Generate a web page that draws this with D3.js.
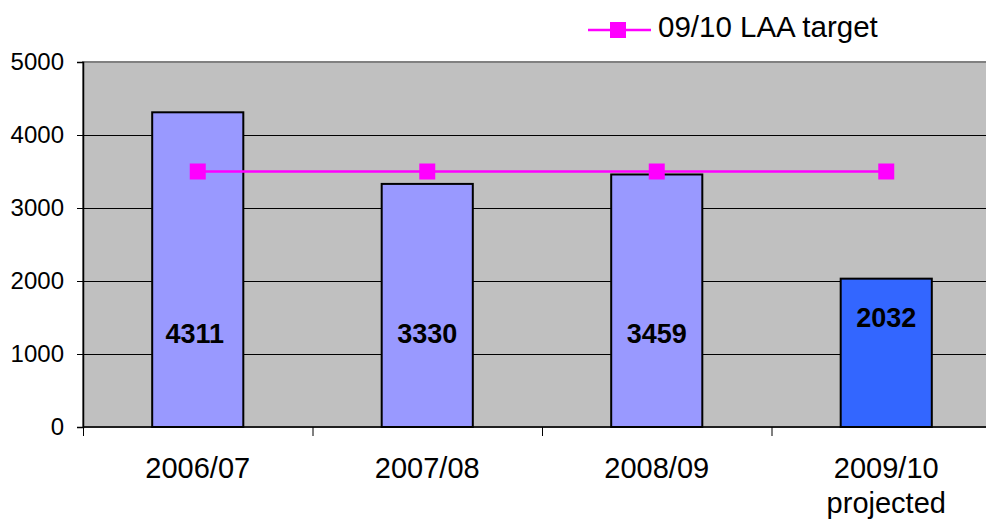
<!DOCTYPE html>
<html>
<head>
<meta charset="utf-8">
<script src="https://cdn.jsdelivr.net/npm/d3@7"></script>
<style>
    body { margin: 0; background: #fff; }
    svg { display: block; font-family: Arial, "Liberation Sans", sans-serif; }
</style>
</head>
<body>
<div id="grafica"></div>
<script>
"use strict";

// datos
const categorias = ["2006/07", "2007/08", "2008/09", "2009/10\nprojected"];
const valores = [4311, 3330, 3459, 2032];
const objetivo = [3500, 3500, 3500, 3500];
const ticksY = [0, 1000, 2000, 3000, 4000, 5000];
const leyendaTexto = "09/10 LAA target";

const width = 986, height = 522;
const margin = { top: 62, left: 83, bottom: 95 };
const pasoCat = 229.5;

const svg = d3.select("#grafica").append("svg")
    .attr("width", width)
    .attr("height", height);

const x = d3.scaleBand()
    .domain(categorias)
    .range([margin.left, margin.left + pasoCat * categorias.length])
    .padding(0);

const y = d3.scaleLinear()
    .domain([0, 5000])
    .range([height - margin.bottom, margin.top]);

const x0 = margin.left, x1 = margin.left + pasoCat * categorias.length;

// fondo del area
svg.append("rect")
    .attr("x", x0).attr("y", y(5000))
    .attr("width", x1 - x0).attr("height", y(0) - y(5000))
    .attr("fill", "#c0c0c0")
    .attr("stroke", "#808080")
    .attr("stroke-width", 2);

// lineas de grilla
svg.append("g").selectAll("line")
    .data(ticksY.filter(d => d > 0 && d < 5000))
    .enter().append("line")
    .attr("x1", x0).attr("x2", x1)
    .attr("y1", d => Math.round(y(d)) + 0.5).attr("y2", d => Math.round(y(d)) + 0.5)
    .attr("stroke", "#000").attr("stroke-width", 1);

// barras
const anchoBarra = x.bandwidth() * 0.397;
const ultimo = valores.length - 1;
svg.append("g").selectAll("rect")
    .data(valores)
    .enter().append("rect")
    .attr("x", (d, i) => x(categorias[i]) + (x.bandwidth() - anchoBarra) / 2)
    .attr("y", d => y(d))
    .attr("width", anchoBarra)
    .attr("height", d => y(0) - y(d))
    .attr("fill", (d, i) => i === ultimo ? "#3366ff" : "#9999ff")
    .attr("stroke", "#000")
    .attr("stroke-width", 2);

// etiquetas de las barras
svg.append("g").selectAll("text")
    .data(valores)
    .enter().append("text")
    .attr("x", (d, i) => x(categorias[i]) + x.bandwidth() / 2 - (i === 0 ? 3 : 0))
    .attr("y", (d, i) => i === ultimo ? y(1500) : y(1280))
    .attr("dy", "0.36em")
    .attr("text-anchor", "middle")
    .style("font-size", "27px")
    .style("font-weight", "bold")
    .text(d => d);

// eje y
const ejeY = svg.append("g")
    .attr("transform", "translate(" + x0 + ",0)")
    .call(d3.axisLeft(y).tickValues(ticksY).tickSize(6).tickPadding(13).tickFormat(d3.format("d")));
ejeY.select(".domain").attr("stroke", "#000").attr("stroke-width", 1.5);
ejeY.selectAll(".tick line").attr("stroke", "#000");
ejeY.selectAll(".tick text")
    .style("font-size", "24px")
    .style("font-family", "Arial, 'Liberation Sans', sans-serif")
    .attr("fill", "#000");

// eje x
svg.append("line")
    .attr("x1", x0).attr("x2", x1)
    .attr("y1", y(0)).attr("y2", y(0))
    .attr("stroke", "#000").attr("stroke-width", 1.5);
svg.append("g").selectAll("line")
    .data(d3.range(categorias.length + 1))
    .enter().append("line")
    .attr("x1", i => x0 + i * x.step() + 0.5).attr("x2", i => x0 + i * x.step() + 0.5)
    .attr("y1", y(0)).attr("y2", y(0) + 9)
    .attr("stroke", "#000");

const etiquetasX = svg.append("g").selectAll("text")
    .data(categorias)
    .enter().append("text")
    .attr("x", d => x(d) + x.bandwidth() / 2)
    .attr("y", 478)
    .attr("text-anchor", "middle")
    .style("font-size", "29px");
etiquetasX.each(function (d) {
    const lineas = d.split("\n");
    lineas.forEach((l, i) => {
        d3.select(this).append("tspan")
            .attr("x", x(d) + x.bandwidth() / 2)
            .attr("dy", i === 0 ? 0 : 35)
            .text(l);
    });
});

// linea objetivo
const linea = d3.line()
    .x((d, i) => x(categorias[i]) + x.bandwidth() / 2)
    .y(d => y(d));
svg.append("path")
    .datum(objetivo)
    .attr("d", linea)
    .attr("fill", "none")
    .attr("stroke", "#ff00ff")
    .attr("stroke-width", 2.5);
svg.append("g").selectAll("rect")
    .data(objetivo)
    .enter().append("rect")
    .attr("x", (d, i) => x(categorias[i]) + x.bandwidth() / 2 - 8)
    .attr("y", d => y(d) - 8)
    .attr("width", 16).attr("height", 16)
    .attr("fill", "#ff00ff");

// leyenda
const leyenda = svg.append("g").attr("transform", "translate(588,30)");
leyenda.append("line")
    .attr("x1", 0).attr("x2", 63)
    .attr("stroke", "#ff00ff").attr("stroke-width", 2.5);
leyenda.append("rect")
    .attr("x", 30 - 8).attr("y", -8)
    .attr("width", 16).attr("height", 16)
    .attr("fill", "#ff00ff");
leyenda.append("text")
    .attr("x", 70).attr("y", 7)
    .style("font-size", "29.5px")
    .text(leyendaTexto);
</script>
</body>
</html>
